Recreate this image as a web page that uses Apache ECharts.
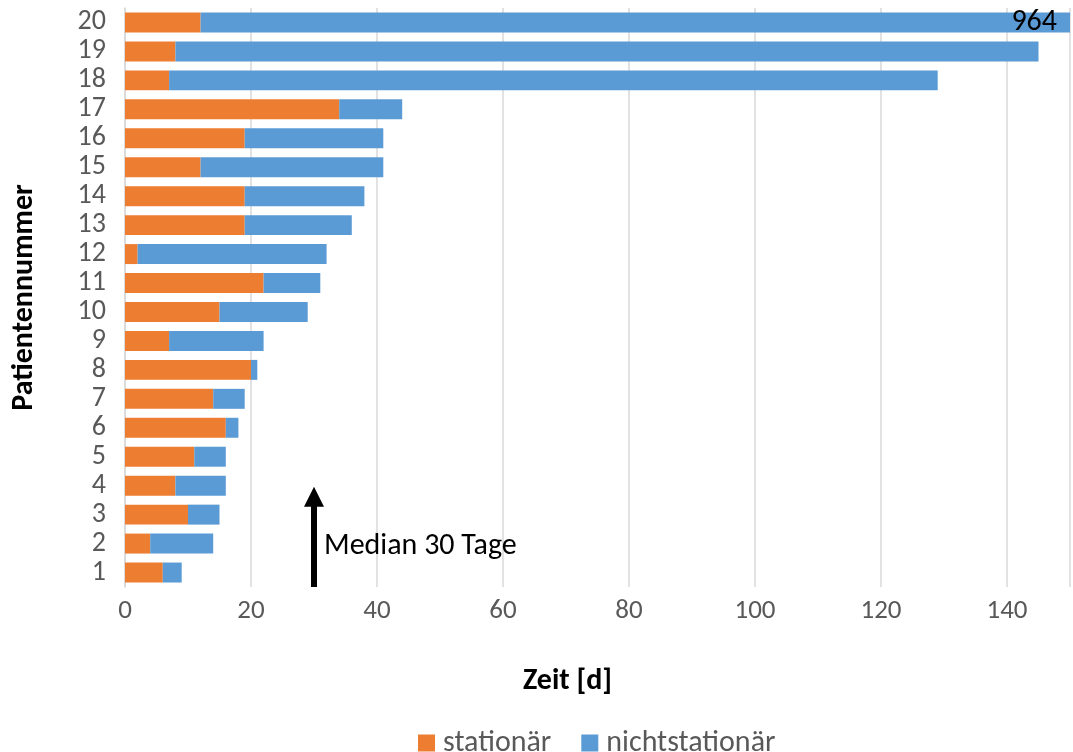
<!DOCTYPE html>
<html>
<head>
<meta charset="utf-8">
<script src="https://cdn.jsdelivr.net/npm/echarts@6/dist/echarts.min.js"></script>
<style>
  html, body { margin: 0; padding: 0; background: #fff; }
  #chart { width: 1073px; height: 752px; }
</style>
</head>
<body>
<div id="chart"></div>
<script>
// Patient numbers (bottom to top)
const patients = ['1','2','3','4','5','6','7','8','9','10','11','12','13','14','15','16','17','18','19','20'];
// Days spent as inpatient
const stationaer = [6, 4, 10, 8, 11, 16, 14, 20, 7, 15, 22, 2, 19, 19, 12, 19, 34, 7, 8, 12];
// Days spent as outpatient
const nichtstationaer = [3, 10, 5, 8, 5, 2, 5, 1, 15, 14, 9, 30, 17, 19, 29, 22, 10, 122, 137, 952];
// Time axis ticks
const xTicks = [0, 20, 40, 60, 80, 100, 120, 140];
const medianDays = 30;
const medianText = 'Median 30 Tage';

const FONT = 'Carlito, Calibri, Lato, sans-serif';
const chart = echarts.init(document.getElementById('chart'));

const totals = stationaer.map((v, i) => v + nichtstationaer[i]);
const lastIdx = patients.length - 1;

chart.setOption({
  animation: false,
  textStyle: { fontFamily: FONT },
  color: ['#ED7D31', '#5B9BD5'],
  grid: { left: 125, right: -3, top: 8, bottom: 165 },
  legend: {
    bottom: -11,
    left: 413,
    icon: 'rect',
    itemWidth: 17,
    itemHeight: 17,
    itemGap: 30,
    textStyle: { fontSize: 30, color: '#595959', fontFamily: FONT, padding: [0, 0, 0, 3] },
    data: ['stationär', 'nichtstationär']
  },
  xAxis: {
    type: 'value',
    min: 0,
    max: 150,
    interval: 20,
    name: 'Zeit [d]',
    nameLocation: 'middle',
    nameGap: 79,
    nameTextStyle: {
      fontSize: 30, fontWeight: 'bold', color: '#000', fontFamily: FONT,
      verticalAlign: 'top', padding: [0, 60, 0, 0]
    },
    axisLine: { show: false },
    axisTick: { show: false },
    axisLabel: {
      fontSize: 27, color: '#595959', margin: 11, fontFamily: FONT,
      formatter: v => (xTicks.indexOf(v) >= 0 ? String(v) : '')
    },
    splitLine: { lineStyle: { color: '#d9d9d9', width: 1.5 } }
  },
  yAxis: {
    type: 'category',
    data: patients,
    name: 'Patientennummer',
    nameLocation: 'middle',
    nameGap: 86,
    nameTextStyle: { fontSize: 30, fontWeight: 'bold', color: '#000', fontFamily: FONT },
    axisLine: { lineStyle: { color: '#d9d9d9', width: 1.5 } },
    axisTick: { show: false },
    axisLabel: { interval: 0, fontSize: 28, color: '#595959', margin: 19, fontFamily: FONT }
  },
  series: [
    {
      name: 'stationär',
      type: 'bar',
      stack: 'zeit',
      barCategoryGap: '31%',
      data: stationaer
    },
    {
      name: 'nichtstationär',
      type: 'bar',
      stack: 'zeit',
      barCategoryGap: '31%',
      clip: true,
      data: nichtstationaer.map((v, i) => i === lastIdx ? {
        value: v,
        label: {
          show: true,
          position: 'insideRight',
          distance: 13,
          color: '#000',
          fontSize: 30,
          fontFamily: FONT,
          formatter: () => String(totals[i])
        }
      } : v)
    }
  ]
});

// Median marker: arrow pointing up from the time axis at the median value
function drawMedian() {
  const x = chart.convertToPixel({ xAxisIndex: 0 }, medianDays);
  const bottom = chart.convertToPixel({ yAxisIndex: 0 }, patients[0]) + 14.5;
  const top = chart.convertToPixel({ yAxisIndex: 0 }, patients[3]) + 1;
  chart.setOption({
    graphic: [
      {
        type: 'line',
        shape: { x1: x, y1: bottom, x2: x, y2: top + 18 },
        style: { stroke: '#000', lineWidth: 6 },
        z: 100
      },
      {
        type: 'polygon',
        shape: { points: [[x, top], [x - 10, top + 20], [x + 10, top + 20]] },
        style: { fill: '#000' },
        z: 100
      },
      {
        type: 'text',
        x: x + 10,
        y: (top + bottom) / 2 + 10,
        style: {
          text: medianText,
          fill: '#000',
          font: '30px ' + FONT,
          textVerticalAlign: 'middle'
        },
        z: 100
      }
    ]
  });
}
drawMedian();
</script>
</body>
</html>
